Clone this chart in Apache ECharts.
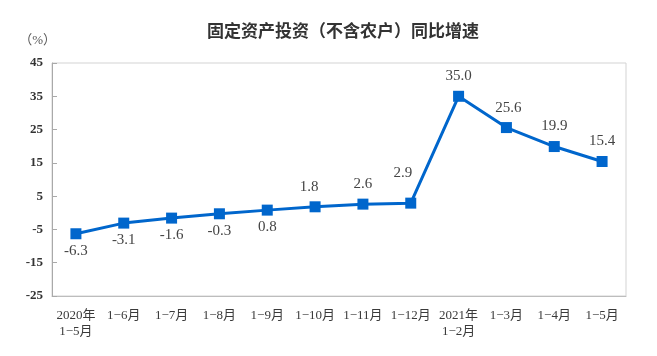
<!DOCTYPE html>
<html><head><meta charset="utf-8">
<script src="https://cdn.jsdelivr.net/npm/echarts@6/dist/echarts.min.js"></script>
<style>html,body{margin:0;padding:0;background:#fff}#c{width:657px;height:356px}</style>
</head><body><div id="c"></div>
<script>
var categories = ['2020年\n1−5月','1−6月','1−7月','1−8月','1−9月','1−10月','1−11月','1−12月','2021年\n1−2月','1−3月','1−4月','1−5月'];
var values = [-6.3, -3.1, -1.6, -0.3, 0.8, 1.8, 2.6, 2.9, 35.0, 25.6, 19.9, 15.4];
var labelSide = ['bottom','bottom','bottom','bottom','bottom','top','top','top','top','top','top','top'];
var yTicks = [-25, -15, -5, 5, 15, 25, 35, 45];
var title = '固定资产投资（不含农户）同比增速';

var labelOffsets = {7: [-8, -10], 5: [-6, 0], 9: [2, 0], 11: [0, 0]};
var data = values.map(function (v, i) {
  return {
    value: v,
    label: {
      position: labelSide[i],
      offset: labelOffsets[i] || [0, 0],
      distance: labelSide[i] === 'top' ? 7 : 4
    }
  };
});
var serif = '"Liberation Serif", "Noto Sans CJK SC", serif';
var chart = echarts.init(document.getElementById('c'));
chart.setOption({
  animation: false,
  title: {
    text: title, left: 338, top: 17, textAlign: 'center',
    textStyle: {fontFamily: '"Noto Sans CJK SC"', fontSize: 17, fontWeight: 'bold', color: '#333'}
  },
  grid: {left: 52, right: 31, top: 63, bottom: 60, show: true, borderColor: '#d3d3d3', borderWidth: 1, containLabel: false},
  xAxis: {
    type: 'category', data: categories, boundaryGap: true,
    axisLine: {onZero: false, lineStyle: {color: '#bdbdbd', width: 1}},
    axisTick: {inside: true, length: 4, lineStyle: {color: '#bdbdbd'}},
    axisLabel: {fontFamily: serif, fontSize: 13, color: '#3a3a3a', margin: 12, lineHeight: 16, interval: 0}
  },
  yAxis: {
    type: 'value', min: -25, max: 45,
    name: '（%）', nameLocation: 'end', nameGap: 16,
    nameTextStyle: {fontFamily: serif, fontSize: 13, color: '#555', align: 'right', padding: [0, -4, 0, 0]},
    splitLine: {show: false},
    axisLine: {show: true, lineStyle: {color: '#a9a9a9', width: 1}},
    axisTick: {show: true, inside: true, length: 5, lineStyle: {color: '#a9a9a9'}, customValues: yTicks},
    axisLabel: {fontFamily: serif, fontSize: 13, fontWeight: 'bold', color: '#333', margin: 9, customValues: yTicks}
  },
  series: [{
    type: 'line', data: data,
    symbol: 'rect', symbolSize: 11,
    lineStyle: {color: '#0066cc', width: 3},
    itemStyle: {color: '#0066cc'},
    label: {show: true, fontFamily: serif, fontSize: 15, color: '#444',
      formatter: function (p) { return p.value.toFixed(1); }}
  }]
});
</script></body></html>
